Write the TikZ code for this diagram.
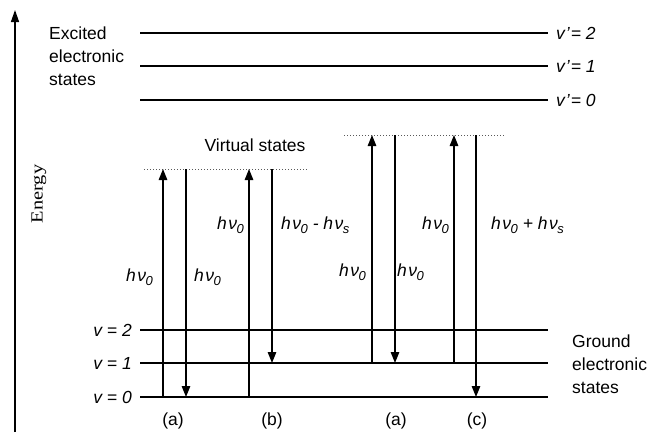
\documentclass[tikz,border=0pt]{standalone}
\usepackage{fontspec}
\setmainfont{Liberation Sans}
\newfontfamily\serifE{Liberation Serif}
\usetikzlibrary{arrows.meta}
\newcommand{\hnu}[1]{h\kern1.5pt ν\kern-0.5pt\raisebox{-3.5pt}{\fontsize{13}{13}\selectfont #1}}
\begin{document}
\begin{tikzpicture}[x=1pt,y=-1pt,
  level/.style={line width=2pt},
  trans/.style={line width=1.2pt,-{Triangle[width=8.5pt,length=11pt]}},
  axis/.style={line width=1.4pt,-{Triangle[width=8pt,length=12pt]}},
  virt/.style={dotted,line width=1pt,gray!70!black},
  lbl/.style={font=\fontsize{17.5}{23}\selectfont,inner sep=0pt},
  mlbl/.style={font=\fontsize{17.5}{20}\selectfont\itshape,inner sep=0pt}]
\useasboundingbox (0,0) rectangle (651,432);

% energy axis
\coordinate (axb) at (15,432);
\coordinate (axt) at (15,10);
\draw[axis] (axb) -- (axt);
\node[inner sep=0pt] (energy) at (39,194) {\rotatebox{90}{\serifE\fontsize{17}{17}\selectfont\scalebox{1.2}[1]{Energy}}};

% excited levels
\foreach \n/\y in {2/33,1/66,0/100}{
  \coordinate (el\n) at (140,\y);
  \coordinate (er\n) at (548,\y);
  \draw[level] (el\n) -- (er\n);
  \node[mlbl,anchor=west] (ev\n) at (556,\y) {v\kern1pt\textquoteright\kern1pt= \n};
}
% ground levels
\foreach \n/\y in {2/330,1/363,0/397}{
  \coordinate (gl\n) at (140,\y);
  \coordinate (gr\n) at (548,\y);
  \draw[level] (gl\n) -- (gr\n);
  \node[mlbl,anchor=east] (gv\n) at (132,\y) {v = \n};
}

\node[lbl,anchor=west,align=left] (exc) at (49,56) {Excited\\electronic\\states};
\node[lbl,anchor=west,align=left] (gnd) at (572,364) {Ground\\electronic\\states};

% virtual states
\coordinate (v1l) at (144,169);
\coordinate (v1r) at (308,169);
\coordinate (v2l) at (344,135);
\coordinate (v2r) at (505,135);
\draw[virt] (v1l) -- (v1r);
\draw[virt] (v2l) -- (v2r);
\node[lbl] (virtual) at (255,145) {Virtual states};

% (a) left
\coordinate (a1ub) at (163,397); \coordinate (a1ut) at (163,169);
\coordinate (a1dt) at (186,169); \coordinate (a1db) at (186,397);
\draw[trans] (a1ub) -- (a1ut);
\draw[trans] (a1dt) -- (a1db);
% (b)
\coordinate (bub) at (249,397); \coordinate (but) at (249,169);
\coordinate (bdt) at (272,169); \coordinate (bdb) at (272,363);
\draw[trans] (bub) -- (but);
\draw[trans] (bdt) -- (bdb);
% (a) right
\coordinate (a2ub) at (372,363); \coordinate (a2ut) at (372,135);
\coordinate (a2dt) at (395,135); \coordinate (a2db) at (395,363);
\draw[trans] (a2ub) -- (a2ut);
\draw[trans] (a2dt) -- (a2db);
% (c)
\coordinate (cub) at (454,363); \coordinate (cut) at (454,135);
\coordinate (cdt) at (476,135); \coordinate (cdb) at (476,397);
\draw[trans] (cub) -- (cut);
\draw[trans] (cdt) -- (cdb);

% transition labels
\node[mlbl,anchor=east] (l1) at (153,277) {\hnu{0}};
\node[mlbl,anchor=west] (l2) at (194,277) {\hnu{0}};
\node[mlbl,anchor=east] (l3) at (244,225) {\hnu{0}};
\node[mlbl,anchor=west] (l4) at (281,225) {\hnu{0} - \hnu{s}};
\node[mlbl,anchor=east] (l5) at (366,272) {\hnu{0}};
\node[mlbl,anchor=west] (l6) at (397,272) {\hnu{0}};
\node[mlbl,anchor=east] (l7) at (449,225) {\hnu{0}};
\node[mlbl,anchor=west] (l8) at (491,225) {\hnu{0} + \hnu{s}};

% case labels
\node[lbl] (ca) at (173,421) {(a)};
\node[lbl] (cb) at (272,421) {(b)};
\node[lbl] (ca2) at (396,421) {(a)};
\node[lbl] (cc) at (477,421) {(c)};
\end{tikzpicture}
\end{document}
